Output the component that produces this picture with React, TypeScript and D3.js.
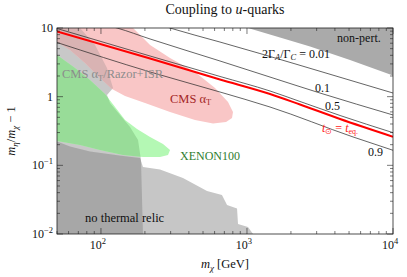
import * as d3 from "d3";

// plot window (pixels)
const W = 407;
const H = 277;
const X0 = 57, X1 = 393, Y0 = 28, Y1 = 234;

// axis domains and major ticks
const massDomain = [50, 1e4];
const ratioDomain = [0.01, 10];
const xMajor = [100, 1000, 10000];
const xMajorExp = ["2", "3", "4"];
const yMajor = [0.01, 0.1, 1, 10];

// contour lines 2Γ_A/Γ_C = const, [m_chi GeV, m_eta/m_chi - 1]
const line001 = [[254, 11.1], [297, 10], [653, 6.25], [1227, 4.25], [3703, 2.12], [10000, 1.13]];
const line01 = [[115, 10.7], [129, 10], [217, 6.92], [653, 3.31], [1438, 1.93], [3162, 1.13], [10000, 0.541]];
const line05 = [[50, 9.83], [217, 3.91], [653, 1.97], [1438, 1.21], [2307, 0.851], [4339, 0.532], [10000, 0.299]];
const line09 = [[50, 6.15], [217, 2.29], [653, 1.17], [1438, 0.707], [5324, 0.259], [10000, 0.1656]];
const lineEq = [[50, 8.89], [217, 3.6], [653, 1.78], [1438, 1.094], [2307, 0.769], [4339, 0.473], [10000, 0.261]];

// excluded regions
const nonPert = [[1016, 10], [1683, 7.27], [2704, 5.38], [5077, 3.42], [10000, 2.03], [10000, 10]];
const cmsAlphaT = [
  [50, 10], [165.8, 10], [216.9, 5.65], [297.2, 3.66], [440.6, 2.29], [604, 1.34], [741.5, 0.836],
  [802, 0.598], [790, 0.489], [718.7, 0.428], [585.5, 0.407], [440.6, 0.457], [297.2, 0.598],
  [200.4, 0.809], [146.2, 1.023], [119, 1.29], [98.5, 1.87], [77.8, 3.09], [61.4, 4.78], [50, 6.25],
];
const cmsRazor = [
  [50, 10], [71.9, 10], [91.1, 5.65], [110, 2.62], [121, 1.34], [110, 1.057], [115.4, 0.809],
  [135, 0.541], [158.2, 0.362], [179.4, 0.234], [188, 0.12], [194, 0.01], [50, 0.01],
];
const xenon = [
  [50, 4.05], [66.4, 2.62], [84.1, 1.75], [106.6, 1.094], [124.9, 0.707], [146.2, 0.457],
  [176.6, 0.338], [216.9, 0.259], [266, 0.205], [297.2, 0.167], [287.9, 0.1415], [253.8, 0.1322],
  [194, 0.1322], [141.6, 0.1415], [98.5, 0.167], [71.9, 0.198], [50, 0.226],
];
const relic = [
  [50, 0.222], [61.4, 0.188], [84.1, 0.159], [141.6, 0.1368], [185.1, 0.128], [194, 0.0946],
  [253.8, 0.087], [364.4, 0.0655], [532.5, 0.0423], [674, 0.037], [730, 0.0265], [855, 0.0235],
  [868, 0.014], [1016, 0.01265], [1100, 0.01], [50, 0.01],
];

const serif = "'Liberation Serif', 'Times New Roman', serif";

export default function App() {
  const x = d3.scaleLog(massDomain, [X0, X1]);
  const y = d3.scaleLog(ratioDomain, [Y1, Y0]);

  const poly = (pts: number[][]) =>
    d3.line<number[]>().x((d) => x(d[0])).y((d) => y(d[1]))(pts) + "Z";
  const curve = d3
    .line<number[]>()
    .x((d) => x(d[0]))
    .y((d) => y(d[1]))
    .curve(d3.curveMonotoneX);

  const xTicks = x.ticks().filter((t) => t >= massDomain[0] && t <= massDomain[1]);
  const yTicks = y.ticks();
  const isMajor = (t: number) => Math.abs(Math.log10(t) - Math.round(Math.log10(t))) < 1e-6;

  const contours = [line001, line01, line05, line09];
  const lbl = (m: number, r: number) => ({ x: x(m), y: y(r) });

  const a = lbl(1268, 3.66);
  const b = lbl(2924, 1.17);
  const c = lbl(3424, 0.64);
  const e = lbl(6745, 0.1368);
  const t = lbl(3265, 0.306);
  const np = lbl(4140, 6.25);
  const raz = lbl(54.1, 1.87);
  const cms = lbl(297, 0.809);
  const xe = lbl(348, 0.1197);
  const nr = lbl(77.8, 0.01496);

  return (
    <svg
      width={W}
      height={H}
      style={{ position: "absolute", left: 0, top: 0, background: "#fff" }}
      fontFamily={serif}
    >
      <defs>
        <clipPath id="plot">
          <rect x={X0} y={Y0} width={X1 - X0} height={Y1 - Y0} />
        </clipPath>
        <clipPath id="razor">
          <path d={poly(cmsRazor)} />
        </clipPath>
      </defs>

      <g clipPath="url(#plot)">
        <path d={poly(cmsRazor)} fill="#c8c8c8" />
        <path d={poly(relic)} fill="#c6c6c6" />
        <path d={poly(xenon)} fill="#b4f8b4" />
        <path d={poly(cmsAlphaT)} fill="#f9c6c6" />
        <g clipPath="url(#razor)">
          <path d={poly(relic)} fill="#a7a7a7" />
          <path d={poly(xenon)} fill="#98dc98" />
          <path d={poly(cmsAlphaT)} fill="#d9b3b3" />
        </g>
        <path d={poly(nonPert)} fill="#aaaaaa" />

        {contours.map((l, i) => (
          <path key={i} d={curve(l) ?? ""} fill="none" stroke="#222" strokeWidth={0.7} />
        ))}
        <path d={curve(lineEq) ?? ""} fill="none" stroke="#ff0000" strokeWidth={2} />
      </g>

      {/* annotations */}
      <g fontSize={12}>
        <text x={a.x} y={a.y} fill="#111">
          2Γ<tspan fontStyle="italic" fontSize={8.5} dy={2.5}>A</tspan>
          <tspan dy={-2.5}>/Γ</tspan>
          <tspan fontStyle="italic" fontSize={8.5} dy={2.5}>C</tspan>
          <tspan dy={-2.5}> = 0.01</tspan>
        </text>
        <text x={b.x} y={b.y} fill="#111">0.1</text>
        <text x={c.x} y={c.y} fill="#111">0.5</text>
        <text x={e.x} y={e.y} fill="#111">0.9</text>
        <text x={t.x} y={t.y} fill="#ff1a1a">
          <tspan fontStyle="italic">t</tspan>
          <tspan fontSize={8} dy={2.5}>⊙</tspan>
          <tspan dy={-2.5}> = </tspan>
          <tspan fontStyle="italic">t</tspan>
          <tspan fontSize={8} dy={2.5}>eq.</tspan>
        </text>
        <text x={np.x} y={np.y} fill="#111">non-pert.</text>
        <text x={raz.x} y={raz.y} fill="#8c8c8c" fontSize={12.5}>
          CMS α<tspan fontSize={8.5} dy={2.5}>T</tspan>
          <tspan dy={-2.5}>/Razor+ISR</tspan>
        </text>
        <text x={cms.x} y={cms.y} fill="#a42626" fontSize={12.5}>
          CMS α<tspan fontSize={8.5} dy={2.5}>T</tspan>
        </text>
        <text x={xe.x} y={xe.y} fill="#2f7d2f">XENON100</text>
        <text x={nr.x} y={nr.y} fill="#111" fontSize={12.5}>no thermal relic</text>
      </g>

      {/* frame and ticks */}
      <rect x={X0} y={Y0} width={X1 - X0} height={Y1 - Y0} fill="none" stroke="#222" strokeWidth={0.8} />
      <g stroke="#222" strokeWidth={0.6}>
        {xTicks.map((v, i) => {
          const len = isMajor(v) ? 6 : 3;
          return (
            <g key={i}>
              <line x1={x(v)} x2={x(v)} y1={Y1} y2={Y1 - len} />
              <line x1={x(v)} x2={x(v)} y1={Y0} y2={Y0 + len} />
            </g>
          );
        })}
        {yTicks.map((v, i) => {
          const len = isMajor(v) ? 6 : 3;
          return (
            <g key={i}>
              <line x1={X0} x2={X0 + len} y1={y(v)} y2={y(v)} />
              <line x1={X1} x2={X1 - len} y1={y(v)} y2={y(v)} />
            </g>
          );
        })}
      </g>

      <g fontSize={12} fill="#111">
        {xMajor.map((v, i) => (
          <text key={i} x={x(v) - 3} y={249} textAnchor="middle">
            10<tspan fontSize={8.5} dy={-5}>{xMajorExp[i]}</tspan>
          </text>
        ))}
        {yMajor.map((v) => {
          const p = Math.round(Math.log10(v));
          return (
            <text key={v} x={53} y={y(v) + 4} textAnchor="end">
              {p === 0 ? "1" : "10"}
              {p < 0 && <tspan fontSize={8.5} dy={-5}>{"−" + -p}</tspan>}
            </text>
          );
        })}
      </g>

      <text x={(X0 + X1) / 2} y={14} textAnchor="middle" fontSize={14} fill="#111">
        Coupling to <tspan fontStyle="italic">u</tspan>-quarks
      </text>
      <text x={(X0 + X1) / 2} y={268} textAnchor="middle" fontSize={12.5} fill="#111">
        <tspan fontStyle="italic">m</tspan>
        <tspan fontStyle="italic" fontSize={9} dy={3}>χ</tspan>
        <tspan dy={-3}> [GeV]</tspan>
      </text>
      <text
        transform={`translate(15,${(Y0 + Y1) / 2}) rotate(-90)`}
        textAnchor="middle"
        fontSize={12.5}
        fill="#111"
      >
        <tspan fontStyle="italic">m</tspan>
        <tspan fontStyle="italic" fontSize={9} dy={3}>η</tspan>
        <tspan dy={-3}>/</tspan>
        <tspan fontStyle="italic">m</tspan>
        <tspan fontStyle="italic" fontSize={9} dy={3}>χ</tspan>
        <tspan dy={-3}> − 1</tspan>
      </text>
    </svg>
  );
}
